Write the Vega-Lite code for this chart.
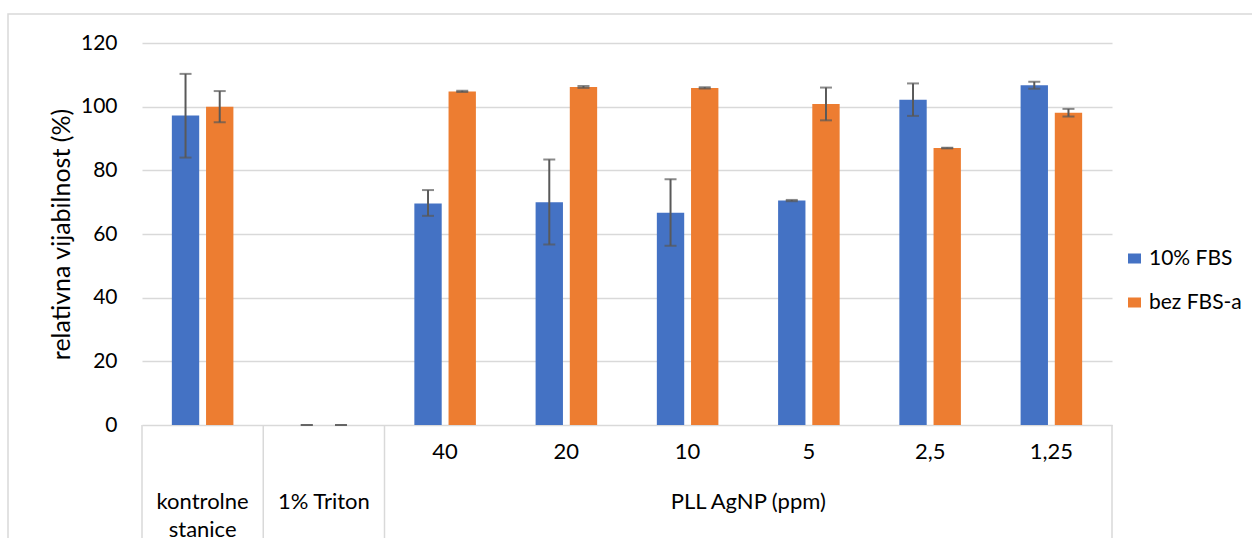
{
  "$schema": "https://vega.github.io/schema/vega-lite/v6.json",
  "width": 1300,
  "height": 600,
  "padding": {"left": 8, "top": 14, "right": 0, "bottom": 0},
  "autosize": {"type": "none"},
  "background": "white",
  "config": {
    "font": "Lato",
    "view": {"stroke": "#d9d9d9", "strokeWidth": 1.5},
    "text": {"font": "Lato", "fontSize": 22, "color": "#000000"}
  },
  "datasets": {
    "bars": [
      {"cat": "kontrolne stanice", "series": "10% FBS", "value": 97.2, "lo": 84.0, "hi": 110.3},
      {"cat": "kontrolne stanice", "series": "bez FBS-a", "value": 100.0, "lo": 95.1, "hi": 104.9},
      {"cat": "1% Triton", "series": "10% FBS", "value": 0, "lo": 0, "hi": 0},
      {"cat": "1% Triton", "series": "bez FBS-a", "value": 0, "lo": 0, "hi": 0},
      {"cat": "40", "series": "10% FBS", "value": 69.6, "lo": 65.7, "hi": 73.8},
      {"cat": "40", "series": "bez FBS-a", "value": 104.8, "lo": 104.6, "hi": 105.0},
      {"cat": "20", "series": "10% FBS", "value": 70.0, "lo": 56.7, "hi": 83.4},
      {"cat": "20", "series": "bez FBS-a", "value": 106.2, "lo": 105.9, "hi": 106.5},
      {"cat": "10", "series": "10% FBS", "value": 66.7, "lo": 56.3, "hi": 77.2},
      {"cat": "10", "series": "bez FBS-a", "value": 105.9, "lo": 105.7, "hi": 106.1},
      {"cat": "5", "series": "10% FBS", "value": 70.5, "lo": 70.3, "hi": 70.7},
      {"cat": "5", "series": "bez FBS-a", "value": 100.8, "lo": 95.7, "hi": 106.0},
      {"cat": "2,5", "series": "10% FBS", "value": 102.2, "lo": 97.1, "hi": 107.3},
      {"cat": "2,5", "series": "bez FBS-a", "value": 87.0, "lo": 86.9, "hi": 87.1},
      {"cat": "1,25", "series": "10% FBS", "value": 106.7, "lo": 105.6, "hi": 107.8},
      {"cat": "1,25", "series": "bez FBS-a", "value": 98.1, "lo": 96.9, "hi": 99.3}
    ],
    "conc": [
      {"cat": "40"}, {"cat": "20"}, {"cat": "10"}, {"cat": "5"}, {"cat": "2,5"}, {"cat": "1,25"}
    ],
    "groups": [
      {"cat": "kontrolne stanice", "label": ["kontrolne", "stanice"]},
      {"cat": "1% Triton", "label": "1% Triton"}
    ],
    "pll": [
      {"cat": "10", "label": "PLL AgNP (ppm)"}
    ],
    "sepStart": [
      {"cat": "kontrolne stanice"}, {"cat": "1% Triton"}, {"cat": "40"}
    ],
    "sepEnd": [
      {"cat": "1,25"}
    ]
  },
  "layer": [
    {
      "data": {"name": "bars"},
      "mark": {"type": "bar"},
      "encoding": {
        "x": {
          "field": "cat", "type": "nominal",
          "scale": {
            "domain": ["kontrolne stanice", "1% Triton", "40", "20", "10", "5", "2,5", "1,25"],
            "range": [134, 1104], "paddingInner": 0, "paddingOuter": 0
          },
          "axis": null
        },
        "xOffset": {
          "field": "series", "type": "nominal",
          "scale": {"domain": ["10% FBS", "bez FBS-a"], "paddingInner": 0.2, "paddingOuter": 0.873}
        },
        "y": {
          "field": "value", "type": "quantitative",
          "scale": {"domain": [0, 120], "range": [411, 29], "nice": false},
          "axis": {
            "values": [0, 20, 40, 60, 80, 100, 120],
            "offset": -134,
            "domain": false,
            "ticks": false,
            "tickSize": 0,
            "labelPadding": 25,
            "labelFont": "Lato",
            "labelFontSize": 21,
            "labelColor": "#000000",
            "grid": true,
            "gridColor": "#d9d9d9",
            "gridWidth": 1.3,
            "title": "relativna vijabilnost (%)",
            "titleFont": "Lato",
            "titleFontSize": 25,
            "titleFontWeight": "normal",
            "titleColor": "#000000",
            "titleX": -81,
            "titleY": 220,
            "titleAngle": -90,
            "titleAlign": "center",
            "titleBaseline": "middle",
            "titleAnchor": null
          }
        },
        "color": {
          "field": "series", "type": "nominal",
          "scale": {"domain": ["10% FBS", "bez FBS-a"], "range": ["#4472C4", "#ED7D31"]},
          "legend": {
            "title": null,
            "orient": "none",
            "legendX": 1116,
            "legendY": 234,
            "padding": 0,
            "symbolType": "M-1,-0.77H1V0.77H-1Z",
            "symbolSize": 169,
            "symbolStrokeWidth": 0,
            "labelFont": "Lato",
            "labelFontSize": 21,
            "labelColor": "#000000",
            "labelOffset": 4,
            "rowPadding": 22
          }
        }
      }
    },
    {
      "data": {"name": "bars"},
      "mark": {"type": "rule", "color": "#595959", "strokeWidth": 2},
      "encoding": {
        "x": {"field": "cat", "type": "nominal"},
        "xOffset": {"field": "series", "type": "nominal"},
        "y": {"field": "lo", "type": "quantitative"},
        "y2": {"field": "hi"}
      }
    },
    {
      "data": {"name": "bars"},
      "mark": {"type": "tick", "color": "#595959", "thickness": 2, "size": 12, "orient": "horizontal"},
      "encoding": {
        "x": {"field": "cat", "type": "nominal"},
        "xOffset": {"field": "series", "type": "nominal"},
        "y": {"field": "lo", "type": "quantitative"}
      }
    },
    {
      "data": {"name": "bars"},
      "mark": {"type": "tick", "color": "#595959", "thickness": 2, "size": 12, "orient": "horizontal"},
      "encoding": {
        "x": {"field": "cat", "type": "nominal"},
        "xOffset": {"field": "series", "type": "nominal"},
        "y": {"field": "hi", "type": "quantitative"}
      }
    },
    {
      "data": {"name": "sepStart"},
      "mark": {"type": "rule", "color": "#d9d9d9", "strokeWidth": 1.5},
      "encoding": {
        "x": {"field": "cat", "type": "nominal", "bandPosition": 0},
        "y": {"datum": 0, "type": "quantitative"},
        "y2": {"datum": -70}
      }
    },
    {
      "data": {"name": "sepEnd"},
      "mark": {"type": "rule", "color": "#d9d9d9", "strokeWidth": 1.5},
      "encoding": {
        "x": {"field": "cat", "type": "nominal", "bandPosition": 1},
        "y": {"datum": 0, "type": "quantitative"},
        "y2": {"datum": -70}
      }
    },
    {
      "data": {"name": "conc"},
      "mark": {"type": "text", "align": "center", "baseline": "alphabetic"},
      "encoding": {
        "x": {"field": "cat", "type": "nominal"},
        "y": {"datum": -10.8, "type": "quantitative"},
        "text": {"field": "cat", "type": "nominal"}
      }
    },
    {
      "data": {"name": "groups"},
      "mark": {"type": "text", "align": "center", "baseline": "alphabetic", "lineHeight": 28},
      "encoding": {
        "x": {"field": "cat", "type": "nominal"},
        "y": {"datum": -26.4, "type": "quantitative"},
        "text": {"field": "label", "type": "nominal"}
      }
    },
    {
      "data": {"name": "pll"},
      "mark": {"type": "text", "align": "center", "baseline": "alphabetic"},
      "encoding": {
        "x": {"field": "cat", "type": "nominal", "bandPosition": 1},
        "y": {"datum": -26.4, "type": "quantitative"},
        "text": {"field": "label", "type": "nominal"}
      }
    }
  ]
}
